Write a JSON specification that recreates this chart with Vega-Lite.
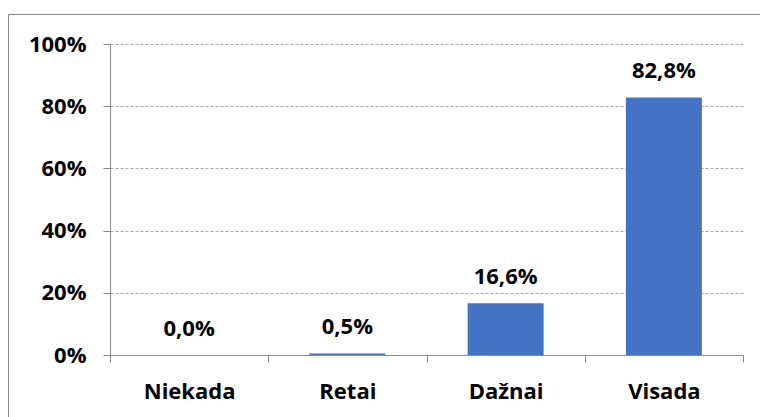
{
  "$schema": "https://vega.github.io/schema/vega-lite/v6.json",
  "width": 752,
  "height": 403,
  "autosize": {"type": "none"},
  "padding": {"left": 8, "top": 14, "right": 0, "bottom": 0},
  "config": {
    "locale": {"number": {"decimal": ",", "thousands": " ", "grouping": [3], "currency": ["", " €"]}},
    "view": {"stroke": "#898989", "strokeWidth": 1},
    "font": "Open Sans"
  },
  "data": {
    "values": [
      {"kat": "Niekada", "val": 0},
      {"kat": "Retai", "val": 0.005},
      {"kat": "Dažnai", "val": 0.166},
      {"kat": "Visada", "val": 0.828}
    ]
  },
  "encoding": {
    "x": {
      "field": "kat", "type": "nominal", "sort": null,
      "scale": {"range": [102, 735], "paddingInner": 0, "paddingOuter": 0},
      "axis": {
        "title": null, "labelAngle": 0, "offset": -62, "tickBand": "extent", "tickSize": 7,
        "domainColor": "#8c8c8c", "tickColor": "#8c8c8c",
        "labelFont": "Open Sans", "labelFontSize": 22, "labelFontWeight": "bold", "labelColor": "#000000",
        "labelBaseline": "alphabetic", "labelPadding": 36
      }
    },
    "y": {
      "field": "val", "type": "quantitative",
      "scale": {"domain": [0, 1], "range": [341, 30], "nice": false},
      "axis": {
        "title": null, "values": [0, 0.2, 0.4, 0.6, 0.8, 1], "format": ".0%", "offset": -102, "tickSize": 7,
        "domainColor": "#8c8c8c", "tickColor": "#8c8c8c",
        "gridColor": "#a6a6a6", "gridDash": [3, 2],
        "labelFont": "Open Sans", "labelFontSize": 22, "labelFontWeight": "bold", "labelColor": "#000000",
        "labelPadding": 17
      }
    }
  },
  "layer": [
    {"mark": {"type": "bar", "color": "#4472c4", "width": {"band": 0.48}}},
    {
      "mark": {"type": "text", "baseline": "alphabetic", "dy": -19, "fontSize": 22, "fontWeight": "bold", "color": "#000000"},
      "encoding": {"text": {"field": "val", "type": "quantitative", "format": ".1%"}}
    }
  ]
}
